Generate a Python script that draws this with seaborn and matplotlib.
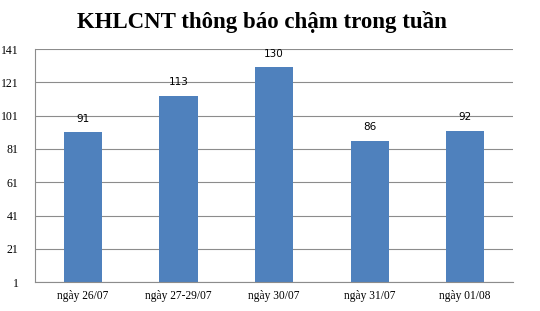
import matplotlib
matplotlib.use("Agg")
import matplotlib.pyplot as plt
import seaborn as sns
import pandas as pd

categories = ["ngày 26/07", "ngày 27-29/07", "ngày 30/07", "ngày 31/07", "ngày 01/08"]
values = [91, 113, 130, 86, 92]
yticks = [1, 21, 41, 61, 81, 101, 121, 141]

df = pd.DataFrame({"cat": categories, "val": values})

sns.set_style("white")
plt.rcParams["text.color"] = "black"
plt.rcParams["xtick.color"] = "black"
plt.rcParams["ytick.color"] = "black"
fig = plt.figure(figsize=(5.4, 3.11), dpi=100)
ax = fig.add_axes([0.065, 0.093, 0.885, 0.749])
sns.barplot(data=df, x="cat", y="val", color="#4F81BD", saturation=1, width=0.4,
            linewidth=0, ax=ax)

ax.set_ylim(1, 141)
ax.set_yticks(yticks)
ax.set_yticklabels([str(t) for t in yticks], family="Liberation Serif", fontsize=8.5, color="black")
ax.set_xticklabels(categories, family="Liberation Serif", fontsize=8.3, color="black")
ax.set_xlim(-0.5, 4.5)
ax.yaxis.grid(True, color="#8c8c8c", linewidth=0.8)
ax.set_axisbelow(True)
for s in ["top", "right"]:
    ax.spines[s].set_visible(False)
for s in ["left", "bottom"]:
    ax.spines[s].set_color("#8c8c8c")
    ax.spines[s].set_linewidth(0.8)
ax.set_xlabel("")
ax.set_ylabel("")
ax.tick_params(axis="y", length=4, color="#8c8c8c", pad=8)
ax.tick_params(axis="x", length=0, pad=6)
ax.set_xticks([i - 0.5 for i in range(6)], minor=True)
ax.tick_params(axis="x", which="minor", length=5, color="#8c8c8c")

for i, v in enumerate(values):
    ax.text(i, v + 5, str(v), ha="center", va="bottom", fontsize=7.5,
            family="DejaVu Sans", color="black")

fig.text(0.485, 0.93, "KHLCNT thông báo chậm trong tuần", ha="center", va="center",
         family="Liberation Serif", fontweight="bold", fontsize=16.5, color="black")

fig.savefig("out.png", dpi=100)
